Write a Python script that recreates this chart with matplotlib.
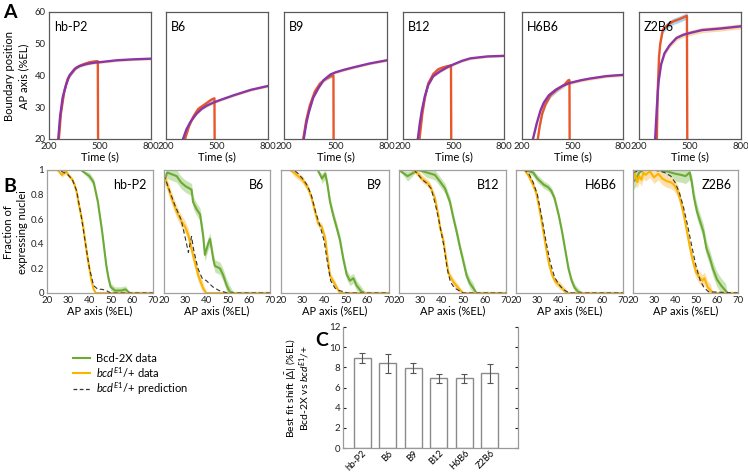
import matplotlib

matplotlib.use("Agg")

import matplotlib.pyplot as plt  # noqa: E402
import numpy as np  # noqa: E402

plt.rcParams["font.family"] = ["Lato", "DejaVu Sans"]
plt.rcParams["mathtext.fontset"] = "custom"
plt.rcParams["mathtext.rm"] = "Lato"
plt.rcParams["mathtext.it"] = "Lato:italic"

W, H = 748, 472

# ---------------- data ----------------
constructs = ["hb-P2", "B6", "B9", "B12", "H6B6", "Z2B6"]

# panel A: boundary position (%EL) over time (s)
a_orange_t = [
    [258, 270, 290, 310, 330, 360, 400, 440, 480, 487, 490],
    [312, 335, 360, 390, 430, 470, 485, 488],
    [312, 330, 350, 380, 410, 440, 470, 488, 490],
    [298, 315, 330, 350, 380, 410, 440, 470, 485, 488],
    [294, 305, 320, 340, 370, 410, 450, 475, 482, 484],
    [305, 310, 318, 325, 340, 370, 400, 440, 470, 482, 485],
]
a_orange_y = [
    [20, 28, 35, 39, 40.5, 42.5, 43.5, 44.2, 44.5, 44.5, 0],
    [20, 24, 27, 29.5, 31, 32.5, 32.8, 0],
    [20, 26, 30.5, 35, 37.5, 38.8, 39.7, 40, 0],
    [20, 28, 33, 37.5, 40.5, 42, 42.6, 43, 43.2, 0],
    [20, 24, 28, 31, 33.8, 35.6, 37, 38.5, 38.5, 0],
    [20, 35, 46, 50, 54.4, 56, 57, 57.8, 58.5, 58.8, 0],
]
a_purple_t = [
    [250, 265, 280, 300, 320, 350, 380, 420, 460, 500, 550, 600, 700, 800],
    [300, 320, 345, 380, 410, 440, 480, 520, 600, 700, 800],
    [315, 330, 345, 370, 400, 430, 470, 500, 550, 600, 700, 800],
    [288, 300, 312, 330, 350, 380, 420, 460, 500, 550, 600, 700, 800],
    [265, 288, 310, 330, 360, 400, 440, 480, 550, 600, 700, 800],
    [295, 305, 315, 330, 350, 380, 420, 460, 500, 570, 680, 800],
]
a_purple_y = [
    [17, 27, 33, 37, 40, 42, 43, 43.6, 44, 44.2, 44.5, 44.8, 45.1, 45.3],
    [20, 23, 25.5, 28, 29.5, 30.5, 31.5, 32.3, 33.8, 35.5, 36.7],
    [20, 25, 28.5, 33, 36, 38.5, 40.3, 41, 41.8, 42.5, 43.8, 44.8],
    [20, 25, 29, 33.5, 37, 39.8, 41.3, 42.5, 43.5, 44.6, 45.4, 46, 46.2],
    [20, 25, 29, 31.5, 33.8, 35.5, 36.7, 37.6, 38.5, 39, 39.8, 40.2],
    [20, 30, 38, 43.5, 47, 49.5, 51.8, 52.8, 53.4, 54.3, 54.8, 55.5],
]
a_orange_err = [0.5, 0.5, 0.5, 0.5, 0.7, 1.0]
a_purple_err = [0.4, 0.4, 0.4, 0.4, 0.5, 0.8]

# panel B: fraction of expressing nuclei along AP axis (%EL)
b_green_x = [
    [20, 36, 40, 42, 43, 44, 45, 46, 47, 48, 49, 50, 52, 55, 57, 59, 70],
    [20, 21.5, 23, 26, 28, 30, 33, 33.7, 35.4, 37, 38.5, 39.3, 40.8, 41.7, 43.3, 44, 46.4,
     47.8, 49.6, 51, 53, 70],
    [20, 30, 37, 39, 40.5, 41.5, 42.7, 44.2, 45.8, 47.3, 48.8, 50.4, 51.9, 53.5, 55, 57.3,
     59, 70],
    [20, 24, 29, 33, 36.8, 39, 41.5, 43.8, 45.4, 46.9, 48.5, 50, 51.6, 53.1, 54.7, 56.2, 70],
    [20, 24, 28, 30, 33, 35, 36.5, 38, 40, 41.5, 43, 44.5, 46, 47.5, 49, 51, 70],
    [20, 21.5, 23, 25, 28, 32, 36, 40, 43, 45, 47, 48, 49, 50.5, 52, 53.5, 55, 56.5, 58,
     60, 62, 64, 65, 70],
]
b_green_y = [
    [1, 1, 0.95, 0.9, 0.82, 0.74, 0.62, 0.5, 0.36, 0.22, 0.12, 0.05, 0.02, 0.02, 0.03, 0, 0],
    [0.9, 0.98, 0.97, 0.95, 0.9, 0.87, 0.84, 0.74, 0.68, 0.64, 0.46, 0.31, 0.40, 0.44, 0.27,
     0.22, 0.2, 0.15, 0.06, 0.01, 0, 0],
    [1, 1, 1, 0.93, 0.97, 0.88, 0.74, 0.63, 0.53, 0.43, 0.28, 0.15, 0.10, 0.12, 0.06, 0.01,
     0, 0],
    [1, 0.95, 1, 0.98, 0.96, 0.91, 0.85, 0.74, 0.61, 0.5, 0.37, 0.26, 0.14, 0.08, 0.04, 0, 0],
    [1, 1, 0.98, 0.93, 0.88, 0.86, 0.83, 0.77, 0.63, 0.5, 0.35, 0.2, 0.1, 0.04, 0.01, 0, 0],
    [0.9, 0.93, 0.98, 1.0, 1.0, 1.0, 0.99, 0.97, 0.96, 0.95, 0.98, 0.9, 0.78, 0.66, 0.58,
     0.5, 0.36, 0.29, 0.2, 0.11, 0.06, 0.02, 0, 0],
]
b_yellow_x = [
    [20, 25, 27, 29, 30, 32, 33, 34, 35, 36, 37, 38, 39, 40, 41, 42, 43, 70],
    [20, 21.2, 23.6, 26, 28.3, 29.9, 31.5, 33.8, 36.2, 38.5, 40, 70],
    [20, 24, 26, 28, 30, 31.5, 32.6, 34.2, 36.2, 37.3, 38.8, 40.4, 41.5, 42.7, 45, 47.3, 70],
    [20, 26, 29, 30.6, 33, 34.5, 36.8, 38.4, 39.2, 40.7, 42, 43.1, 45.4, 47.7, 50, 70],
    [20, 24, 26, 28, 29.5, 31, 32.5, 34, 35.5, 37, 38.5, 40.5, 43, 44, 70],
    [20, 21, 22, 23, 24, 25, 26, 28, 30, 32, 34, 36, 38, 39.5, 41, 42.5, 44, 45.5, 47, 48.5,
     50, 51.5, 53, 54, 55.5, 57, 58, 70],
]
b_yellow_y = [
    [1, 1, 0.96, 0.99, 0.96, 0.92, 0.88, 0.82, 0.72, 0.64, 0.55, 0.42, 0.3, 0.2, 0.1, 0.03,
     0, 0],
    [0.96, 0.9, 0.77, 0.66, 0.58, 0.54, 0.47, 0.30, 0.14, 0.035, 0, 0],
    [1, 1, 0.98, 0.95, 0.92, 0.88, 0.85, 0.77, 0.63, 0.56, 0.54, 0.45, 0.30, 0.14, 0.07, 0,
     0],
    [1, 1, 0.97, 0.93, 0.9, 0.87, 0.77, 0.63, 0.53, 0.43, 0.28, 0.16, 0.09, 0.04, 0, 0],
    [1, 1, 0.95, 0.88, 0.81, 0.68, 0.53, 0.37, 0.23, 0.14, 0.09, 0.06, 0.01, 0, 0],
    [0.92, 0.97, 0.9, 0.95, 0.92, 0.98, 0.96, 0.99, 0.94, 0.97, 0.93, 0.91, 0.9, 0.88, 0.84,
     0.76, 0.65, 0.52, 0.38, 0.26, 0.17, 0.13, 0.1, 0.12, 0.05, 0.02, 0, 0],
]
b_pred_x = [
    [20, 25, 28, 30, 32, 34, 36, 38, 40, 42, 44, 46, 48, 50, 70],
    [20, 22, 25, 28, 30, 31.5, 33, 34, 36, 38, 40, 43, 46, 50, 70],
    [20, 26, 28, 30, 32, 34, 36, 38, 40, 41.5, 43, 45, 47, 49, 51, 70],
    [20, 27, 29, 31, 33, 35, 37, 39, 41, 42.5, 44, 46, 48, 50, 70],
    [20, 24, 26, 28, 30, 32, 34, 36, 38, 40, 42, 44, 46, 70],
    [20, 25, 30, 35, 38, 40, 42, 44, 46, 48, 50, 52, 54, 56, 70],
]
b_pred_y = [
    [1, 1, 0.98, 0.96, 0.92, 0.83, 0.64, 0.42, 0.2, 0.06, 0.03, 0.03, 0.02, 0, 0],
    [0.96, 0.86, 0.72, 0.6, 0.45, 0.33, 0.46, 0.35, 0.2, 0.12, 0.1, 0.05, 0.02, 0, 0],
    [1, 1, 0.97, 0.93, 0.88, 0.8, 0.66, 0.55, 0.42, 0.25, 0.1, 0.04, 0.02, 0.01, 0, 0],
    [1, 1, 0.96, 0.92, 0.89, 0.85, 0.72, 0.56, 0.38, 0.2, 0.09, 0.04, 0.02, 0, 0],
    [1, 1, 0.97, 0.9, 0.8, 0.62, 0.42, 0.25, 0.13, 0.07, 0.03, 0.01, 0, 0],
    [0.98, 1, 1, 0.98, 0.95, 0.9, 0.82, 0.7, 0.55, 0.38, 0.22, 0.1, 0.04, 0.01, 0],
]
b_green_err = [0.03, 0.05, 0.04, 0.04, 0.03, 0.06]
b_yellow_err = [0.02, 0.05, 0.03, 0.03, 0.03, 0.05]

# panel C: best fit shift (%EL)
c_shift = [8.9, 8.4, 7.9, 6.9, 6.9, 7.4]
c_err = [0.5, 0.95, 0.5, 0.45, 0.45, 0.95]

# ---------------- layout (pixels) ----------------
a_left = [49, 166, 284, 403, 522, 639]
a_width = [102, 102, 103, 101, 101, 102]
a_top, a_bottom = 12, 139
b_left = [47, 164, 281, 399, 516, 633]
b_width = [106, 106, 108, 107, 107, 105]
b_top, b_bottom = 170, 293

C_ORANGE = "#e8572a"
C_PURPLE = "#8a35a8"
C_BLUE_BAND = "#a9d3ee"
C_PEACH_BAND = "#fbd9a6"
C_GREEN = "#6caa36"
C_GREEN_BAND = "#c9e3b4"
C_YELLOW = "#fbb400"
C_YELLOW_BAND = "#fde0ad"

TICK_SIZE = 7
LABEL_SIZE = 8


def _rect(left, top, width, bottom):
    return [left / W, 1 - bottom / H, width / W, (bottom - top) / H]


def _band(x, y, err, lo, hi):
    y = np.asarray(y, dtype=float)
    e = np.where((y > lo) & (y < hi), err, 0.0)
    return np.asarray(x, dtype=float), np.clip(y - e, lo, hi), np.clip(y + e, lo, hi)


fig = plt.figure(figsize=(W / 100, H / 100), dpi=100)

# ---------------- panel A ----------------
for i, name in enumerate(constructs):
    ax = fig.add_axes(_rect(a_left[i], a_top, a_width[i], a_bottom))
    ot, oy = a_orange_t[i][:-1], a_orange_y[i][:-1]
    x, lo, hi = _band(ot, oy, a_orange_err[i], 0, 100)
    ax.fill_between(x, lo, hi, color=C_BLUE_BAND, lw=0)
    x, lo, hi = _band(a_purple_t[i], a_purple_y[i], a_purple_err[i], 0, 100)
    ax.fill_between(x, lo, hi, color=C_PEACH_BAND, lw=0)
    ax.plot(a_orange_t[i], a_orange_y[i], color=C_ORANGE, lw=1.7)
    ax.plot(a_purple_t[i], a_purple_y[i], color=C_PURPLE, lw=1.7)
    ax.set_xlim(200, 800)
    ax.set_ylim(20, 60)
    ax.set_xticks([200, 500, 800])
    ax.set_yticks([20, 30, 40, 50, 60])
    if i > 0:
        ax.set_yticklabels([])
    ax.tick_params(length=0, labelsize=6.8, pad=2.5, colors="#222222")
    ax.set_xlabel("Time (s)", fontsize=LABEL_SIZE, labelpad=0)
    for s in ax.spines.values():
        s.set_color("#5a5a5a")
        s.set_linewidth(0.9)
    ax.text(0.05, 0.93, name, transform=ax.transAxes, fontsize=9, va="top", ha="left")

# ---------------- panel B ----------------
for i, name in enumerate(constructs):
    ax = fig.add_axes(_rect(b_left[i], b_top, b_width[i], b_bottom))
    x, lo, hi = _band(b_green_x[i], b_green_y[i], b_green_err[i], 0, 1)
    ax.fill_between(x, lo, hi, color=C_GREEN_BAND, lw=0)
    x, lo, hi = _band(b_yellow_x[i], b_yellow_y[i], b_yellow_err[i], 0, 1)
    ax.fill_between(x, lo, hi, color=C_YELLOW_BAND, lw=0)
    ax.plot(b_green_x[i], b_green_y[i], color=C_GREEN, lw=1.5)
    ax.plot(b_yellow_x[i], b_yellow_y[i], color=C_YELLOW, lw=1.5)
    ax.plot(b_pred_x[i], b_pred_y[i], color="#333333", lw=0.8, ls=(0, (4, 2.5)))
    ax.set_xlim(20, 70)
    ax.set_ylim(0, 1)
    ax.set_xticks([20, 30, 40, 50, 60, 70])
    ax.set_yticks([0, 0.2, 0.4, 0.6, 0.8, 1])
    if i == 0:
        ax.set_yticklabels(["0", "0.2", "0.4", "0.6", "0.8", "1"])
    else:
        ax.set_yticklabels([])
    ax.tick_params(axis="x", length=0, labelsize=TICK_SIZE, pad=2.5, colors="#222222")
    ax.tick_params(axis="y", length=0, labelsize=TICK_SIZE, pad=2, colors="#222222")
    ax.set_xlabel("AP axis (%EL)", fontsize=LABEL_SIZE, labelpad=0)
    for s in ax.spines.values():
        s.set_color("#a0a0a0")
        s.set_linewidth(0.9)
    ax.text(0.94, 0.93, name, transform=ax.transAxes, fontsize=9, va="top", ha="right")

# ---------------- panel C ----------------
axc = fig.add_axes(_rect(343, 327, 175, 448))
pos = np.arange(len(constructs))
axc.bar(pos, c_shift, width=0.66, color="white", edgecolor="#8a8a8a", linewidth=1.0,
        yerr=c_err, error_kw={"ecolor": "#555555", "elinewidth": 0.8, "capsize": 2,
                              "capthick": 0.8})
axc.set_xlim(-0.75, 6.1)
axc.set_ylim(0, 12)
axc.set_yticks(range(0, 13, 2))
axc.set_xticks(pos)
axc.set_xticklabels(constructs, rotation=45, ha="right", rotation_mode="anchor")
axc.tick_params(axis="x", length=0, labelsize=6.6, pad=0.5)
axc.tick_params(axis="y", length=2, direction="in", right=True, labelsize=7, pad=2,
                colors="#222222")
axc.spines["top"].set_visible(False)
for s in ("left", "bottom", "right"):
    axc.spines[s].set_color("#9a9a9a")
    axc.spines[s].set_linewidth(0.9)

# ---------------- figure text ----------------
fig.text(3 / W, 1 - 12 / H, "A", fontsize=14, fontweight="bold", va="center")
fig.text(3 / W, 1 - 186 / H, "B", fontsize=14, fontweight="bold", va="center")
fig.text(315 / W, 1 - 341 / H, "C", fontsize=14, fontweight="bold", va="center")

fig.text(10 / W, 1 - 76 / H, "Boundary position", rotation=90, fontsize=LABEL_SIZE,
         ha="center", va="center")
fig.text(24 / W, 1 - 76 / H, "AP axis (%EL)", rotation=90, fontsize=LABEL_SIZE,
         ha="center", va="center")
fig.text(9 / W, 1 - 232 / H, "Fraction of", rotation=90, fontsize=LABEL_SIZE,
         ha="center", va="center")
fig.text(23 / W, 1 - 232 / H, "expressing nuclei", rotation=90, fontsize=LABEL_SIZE,
         ha="center", va="center")
fig.text(291 / W, 1 - 388 / H, r"Best fit shift $|\bar{\Delta}|$ (%EL)", rotation=90,
         fontsize=7.5, ha="center", va="center")
fig.text(305 / W, 1 - 388 / H, r"Bcd-2X vs $\mathit{bcd}^{\mathit{E1}}$/+", rotation=90,
         fontsize=7.5, ha="center", va="center")

# legend
legend_rows = [
    (358, C_GREEN, "-", "Bcd-2X data"),
    (373, C_YELLOW, "-", r"$\mathit{bcd}^{\mathit{E1}}$/+ data"),
    (389, "#333333", (0, (3, 2)), r"$\mathit{bcd}^{\mathit{E1}}$/+ prediction"),
]
for y, color, ls, label in legend_rows:
    fig.add_artist(plt.Line2D([73 / W, 90 / W], [1 - y / H, 1 - y / H], color=color,
                              lw=1.5 if ls == "-" else 0.9, ls=ls))
    fig.text(96 / W, 1 - y / H, label, fontsize=8, va="center", ha="left")

fig.savefig("out.png", dpi=100)
